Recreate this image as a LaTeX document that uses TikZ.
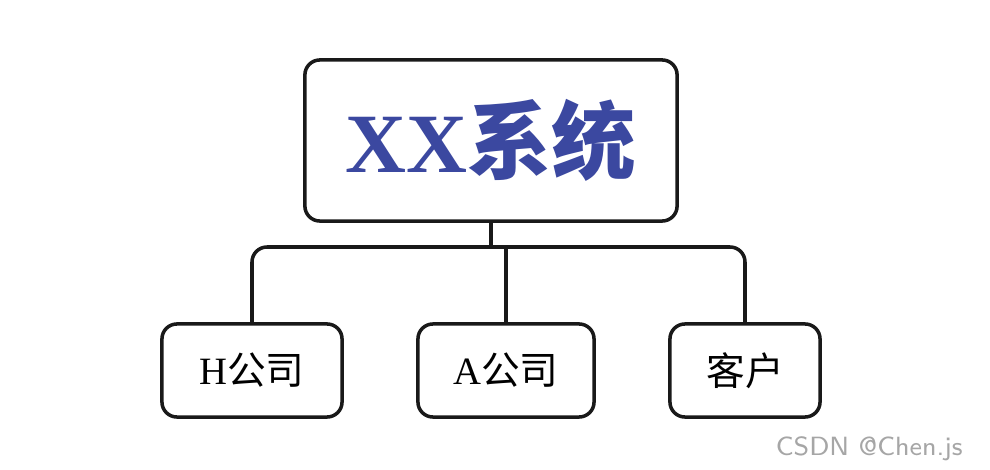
\documentclass[tikz,border=0pt]{standalone}
\usepackage{fontspec}
\setmainfont{Liberation Serif}
\newfontfamily\cjk{Noto Sans CJK SC}
\definecolor{titleblue}{RGB}{59,72,160}
\begin{document}
\begin{tikzpicture}[x=0.01cm,y=-0.01cm,
	box/.style={draw=black!90,line width=1pt,rounded corners=0.15cm},
	conn/.style={draw=black!90,line width=1pt}]

\useasboundingbox (0,0) rectangle (990,470);

\node [box,minimum width=3.72cm,minimum height=1.61cm,text=titleblue,font=\fontsize{24}{28}\selectfont\bfseries]
	(sys) at (491,140.5) {XX{\cjk\bfseries 系统}};

\node [box,minimum width=1.8cm,minimum height=0.93cm,font=\fontsize{11}{13}\selectfont]
	(hco) at (252,370.5) {H{\cjk 公司}};
\node [box,minimum width=1.76cm,minimum height=0.93cm,font=\fontsize{11}{13}\selectfont]
	(aco) at (506,370.5) {A{\cjk 公司}};
\node [box,minimum width=1.5cm,minimum height=0.93cm,font=\fontsize{11}{13}\selectfont]
	(cust) at (745,370.5) {\cjk 客户};

\coordinate (bus) at (490,247);

%%%%%%%%%%%%%%%%%%%%%%%%%%%%%%%%%%%%%%%%%%

\draw [conn] (sys.south) -- (sys.south |- bus);
\draw [conn,rounded corners=0.15cm] (hco.north) |- (cust.north |- bus) -- (cust.north);
\draw [conn] (aco.north) -- (aco.north |- bus);

%%%%%%%%%%%%%%%%%%%%%%%%%%%%%%%%%%%%%%%%%%

\node [text=black!35,font=\sffamily\fontsize{7.5}{9}\selectfont,anchor=east]
	(mark) at (975,449) {CSDN @Chen.js};

\end{tikzpicture}
\end{document}
